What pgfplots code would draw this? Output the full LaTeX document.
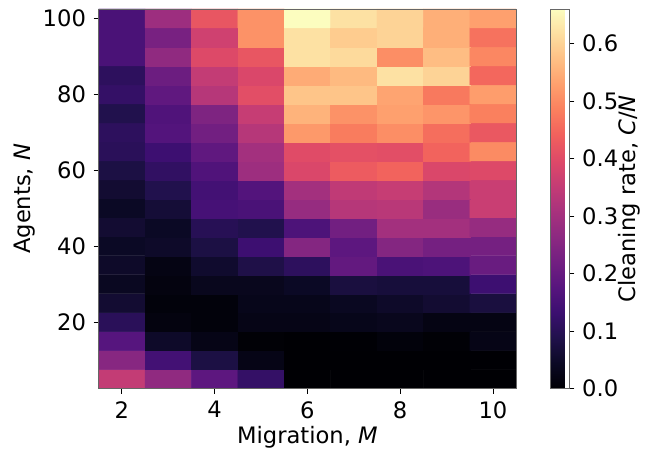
\documentclass[border=0pt]{standalone}
\usepackage{fontspec}
\setmainfont{DejaVu Sans}
\usepackage{pgfplots}
\pgfplotsset{compat=1.18}
\begin{document}
\fontsize{22.8pt}{27pt}\selectfont
\begin{tikzpicture}
\begin{axis}[name=ax, scale only axis, width=419bp, height=381bp,
  xmin=1.5, xmax=10.5, ymin=2.5, ymax=102.5, enlargelimits=false,
  xtick={2,4,6,8,10}, ytick={20,40,60,80,100},
  xtick pos=left, ytick pos=left, tick align=outside,
  major tick length=5bp, tick style={black, line width=0.8bp},
  axis line style={black!60, line width=0.8bp},
  /pgf/number format/assume math mode=true,
  axis on top,
  colormap={magma}{rgb255=(0,0,4) rgb255=(11,9,36) rgb255=(32,17,75) rgb255=(59,15,112) rgb255=(87,21,126) rgb255=(114,31,129) rgb255=(140,41,129) rgb255=(168,50,125) rgb255=(196,60,117) rgb255=(222,73,104) rgb255=(241,96,93) rgb255=(250,127,94) rgb255=(254,159,109) rgb255=(254,191,132) rgb255=(253,222,160) rgb255=(252,253,191)},
  point meta min=0, point meta max=0.66,
  colorbar,
  colorbar style={at={(parent axis.north east)}, anchor=north west, xshift=26bp,
    width=19bp, ytick={0,0.1,0.2,0.3,0.4,0.5,0.6},
    ytick pos=right, yticklabel pos=right, tick align=outside,
    major tick length=5bp, tick style={black, line width=0.8bp},
    axis line style={black!60, line width=0.8bp},
    yticklabel style={/pgf/number format/.cd, fixed, fixed zerofill, precision=1, assume math mode=true},
    ylabel={Cleaning rate, \textit{C}/\textit{N}},
    ylabel style={at={(axis description cs:4.17,0.5)}, anchor=center}},
  xlabel={Migration, \textit{M}}, ylabel={Agents, \textit{N}},
  xlabel style={at={(axis description cs:0.5,-0.128)}, anchor=center},
  ylabel style={at={(axis description cs:-0.177,0.5)}, anchor=center},
]
\addplot[matrix plot*, mesh/cols=9, point meta=explicit] table[meta=c] {
x y c
2 5 0.35
3 5 0.27
4 5 0.185
5 5 0.12
6 5 0
7 5 0
8 5 0
9 5 0
10 5 0
2 10 0.255
3 10 0.145
4 10 0.08
5 10 0.025
6 10 0
7 10 0
8 10 0
9 10 0
10 10 0
2 15 0.175
3 15 0.05
4 15 0.025
5 15 0.003
6 15 0
7 15 0.001
8 15 0.01
9 15 0.003
10 15 0.025
2 20 0.105
3 20 0.015
4 20 0.01
5 20 0.025
6 20 0.025
7 20 0.03
8 20 0.035
9 20 0.02
10 20 0.02
2 25 0.06
3 25 0.01
4 25 0.01
5 25 0.03
6 25 0.03
7 25 0.04
8 25 0.05
9 25 0.06
10 25 0.075
2 30 0.04
3 30 0.015
4 30 0.035
5 30 0.035
6 30 0.045
7 30 0.075
8 30 0.07
9 30 0.07
10 30 0.135
2 35 0.05
3 35 0.02
4 35 0.055
5 35 0.085
6 35 0.11
7 35 0.195
8 35 0.155
9 35 0.16
10 35 0.205
2 40 0.045
3 40 0.05
4 40 0.08
5 40 0.135
6 40 0.25
7 40 0.185
8 40 0.25
9 40 0.225
10 40 0.225
2 45 0.06
3 45 0.045
4 45 0.1
5 45 0.09
6 45 0.16
7 45 0.22
8 45 0.30
9 45 0.30
10 45 0.28
2 50 0.045
3 50 0.065
4 50 0.15
5 50 0.155
6 50 0.28
7 50 0.33
8 50 0.335
9 50 0.285
10 50 0.36
2 55 0.06
3 55 0.09
4 55 0.145
5 55 0.17
6 55 0.30
7 55 0.345
8 55 0.355
9 55 0.325
10 55 0.36
2 60 0.08
3 60 0.115
4 60 0.165
5 60 0.29
6 60 0.39
7 60 0.43
8 60 0.445
9 60 0.39
10 60 0.395
2 65 0.105
3 65 0.135
4 65 0.19
5 65 0.30
6 65 0.40
7 65 0.41
8 65 0.405
9 65 0.445
10 65 0.50
2 70 0.11
3 70 0.17
4 70 0.22
5 70 0.33
6 70 0.52
7 70 0.48
8 70 0.505
9 70 0.46
10 70 0.425
2 75 0.09
3 75 0.165
4 75 0.24
5 75 0.355
6 75 0.555
7 75 0.51
8 75 0.53
9 75 0.515
10 75 0.485
2 80 0.12
3 80 0.19
4 80 0.33
5 80 0.405
6 80 0.58
7 80 0.58
8 80 0.535
9 80 0.475
10 80 0.525
2 85 0.11
3 85 0.21
4 85 0.35
5 85 0.39
6 85 0.545
7 85 0.565
8 85 0.62
9 85 0.60
10 85 0.45
2 90 0.155
3 90 0.27
4 90 0.395
5 90 0.42
6 90 0.62
7 90 0.61
8 90 0.505
9 90 0.57
10 90 0.495
2 95 0.155
3 95 0.23
4 95 0.37
5 95 0.51
6 95 0.62
7 95 0.59
8 95 0.60
9 95 0.55
10 95 0.465
2 100 0.155
3 100 0.29
4 100 0.42
5 100 0.51
6 100 0.66
7 100 0.62
8 100 0.60
9 100 0.55
10 100 0.53
};
\end{axis}
\path (ax.south west) ++(-99bp,-63bp) coordinate (bbsw);
\path (ax.north east) ++(130bp,9bp) coordinate (bbne);
\path (bbsw) rectangle (bbne);
\end{tikzpicture}
\end{document}
